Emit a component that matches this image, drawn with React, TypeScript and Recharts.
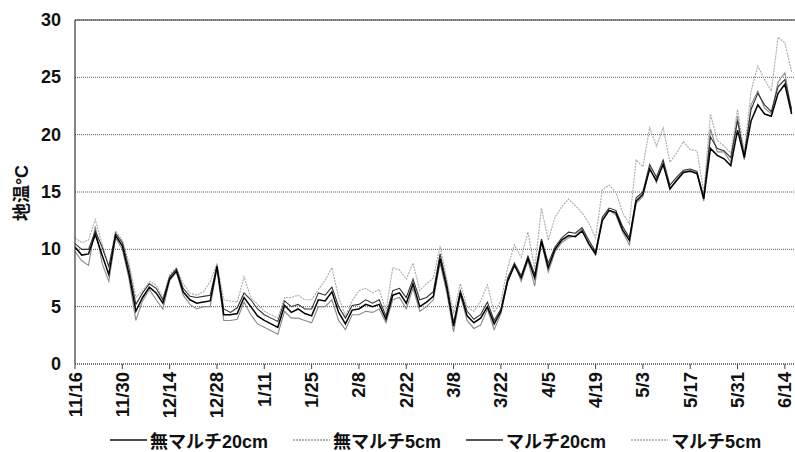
import React from 'react';
import { LineChart, Line, XAxis, YAxis, CartesianGrid, ReferenceLine, Legend } from 'recharts';

// x categories: days since 11/16, one reading every 2 days
const dayStep = 2;
const tickDays = [0, 14, 28, 42, 56, 70, 84, 98, 112, 126, 140, 154, 168, 182, 196, 210];
const tickLabels = ['11/16', '11/30', '12/14', '12/28', '1/11', '1/25', '2/8', '2/22', '3/8', '3/22', '4/5', '4/19', '5/3', '5/17', '5/31', '6/14'];
const yTicks = [0, 5, 10, 15, 20, 25, 30];

const seriesNames = ['無マルチ20cm', '無マルチ5cm', 'マルチ20cm', 'マルチ5cm'];

const noMulch20 = [
  10.2, 9.5, 9.6, 11.3, 9.5, 7.8, 11.2, 10.3, 7.8, 4.6,
  5.8, 6.7, 6.2, 5.3, 7.4, 8.1, 6.3, 5.6, 5.3, 5.4,
  5.5, 8.5, 4.3, 4.3, 4.4, 5.8, 5.0, 4.2, 3.8, 3.5,
  3.2, 5.1, 4.5, 4.8, 4.4, 4.2, 5.6, 5.5, 6.3, 4.5,
  3.5, 4.7, 4.8, 5.2, 5.0, 5.2, 3.9, 6.0, 6.2, 5.3,
  7.0, 5.0, 5.4, 5.9, 9.2, 6.6, 3.3, 6.2, 4.2, 3.6,
  4.0, 5.0, 3.5, 4.6, 7.2, 8.6, 7.5, 9.2, 7.5, 10.7,
  8.4, 10.0, 10.8, 11.2, 11.1, 11.6, 10.5, 9.6, 12.5, 13.4,
  13.2, 11.7, 10.8, 14.2, 14.8, 17.0, 16.0, 17.4, 15.3, 16.0,
  16.7, 16.8, 16.6, 14.4, 18.8, 18.2, 17.9, 17.3, 20.4, 18.0,
  21.2, 22.6, 21.8, 21.6, 23.6, 24.4, 21.8,
];
const noMulch5 = [
  9.8, 9.0, 8.6, 12.0, 8.8, 7.2, 11.0, 10.0, 7.4, 3.8,
  5.5, 6.5, 5.6, 4.8, 7.3, 8.0, 6.0, 5.2, 4.8, 5.0,
  5.0, 8.3, 3.8, 3.8, 3.9, 5.4, 4.3, 3.5, 3.2, 2.9,
  2.6, 4.6, 4.0, 4.0, 3.8, 3.6, 5.0, 5.0, 5.6, 3.8,
  3.0, 4.3, 4.3, 4.6, 4.5, 4.8, 3.6, 5.6, 5.8, 4.8,
  6.6, 4.6, 5.0, 5.6, 8.8, 6.2, 2.8, 6.0, 3.8, 3.1,
  3.4, 4.8, 3.0, 4.4, 7.3, 8.7, 7.2, 9.0, 6.8, 10.6,
  8.0, 9.8, 10.6, 11.0, 11.2, 11.8, 10.4, 9.5, 12.6, 13.4,
  13.0, 11.5, 10.4, 14.0, 14.6, 17.2, 15.8, 17.6, 15.2, 16.1,
  16.8, 16.9, 16.7, 14.2, 20.5, 18.5, 18.5, 17.6, 21.6, 17.8,
  22.6, 23.8, 22.3, 21.8, 24.6, 25.4, 22.0,
];
const mulch20 = [
  10.5, 10.0, 10.0, 11.6, 10.2, 8.5, 11.4, 10.6, 8.3, 5.2,
  6.2, 7.0, 6.6, 5.6, 7.6, 8.3, 6.6, 5.9, 5.8, 5.9,
  6.0, 8.6, 4.8, 4.5, 4.9, 6.2, 5.6, 4.8, 4.3, 4.0,
  3.7, 5.5, 5.0, 5.2, 4.8, 4.8, 6.2, 6.0, 6.7, 5.0,
  4.0, 5.1, 5.2, 5.6, 5.3, 5.6, 4.2, 6.4, 6.6, 5.8,
  7.4, 5.6, 5.8, 6.3, 9.6, 7.0, 3.6, 6.4, 4.6, 3.9,
  4.3, 5.4, 3.8, 4.8, 7.5, 8.8, 7.7, 9.4, 7.8, 10.9,
  8.8, 10.2, 11.0, 11.5, 11.4, 11.9, 10.8, 9.8, 12.8, 13.6,
  13.4, 12.0, 11.0, 14.5, 15.0, 17.4, 16.3, 17.8, 15.6, 16.3,
  16.9, 17.0, 16.8, 14.6, 19.8, 18.8, 18.6, 18.0, 21.2, 18.2,
  22.2, 23.6, 22.6, 22.0, 24.2, 24.8, 22.2,
];
const mulch5 = [
  11.0, 10.6, 10.8, 12.6, 10.5, 8.5, 11.6, 10.8, 8.8, 5.8,
  6.4, 7.2, 6.9, 5.8, 7.8, 8.4, 7.0, 6.2, 6.0, 6.3,
  7.2, 8.8, 5.6, 5.5, 5.4, 7.6, 5.8, 5.2, 4.6, 4.3,
  4.0, 5.8, 5.8, 6.0, 5.6, 5.6, 6.5, 7.3, 8.4, 5.8,
  4.2, 5.5, 6.4, 6.6, 6.2, 6.5, 4.6, 8.4, 8.2, 7.4,
  8.8, 6.4, 7.0, 7.5, 10.3, 7.4, 4.4, 7.0, 5.0, 4.6,
  5.5, 6.9, 4.5, 5.5, 8.4, 10.4, 9.3, 11.5, 8.3, 13.6,
  10.8, 12.8, 13.7, 14.4, 13.8, 13.2, 12.3, 11.0, 15.2, 15.6,
  15.0, 13.2, 12.2, 17.8, 17.2, 20.6, 19.0, 20.6, 17.6, 18.4,
  19.4, 18.7, 18.6, 15.0, 21.8, 19.5, 19.0, 18.4, 22.2, 18.5,
  23.8, 26.0, 24.8, 23.8, 28.5, 28.0, 25.5,
];

const data = noMulch20.map((v, i) => ({
  day: i * dayStep,
  a: v,
  b: noMulch5[i],
  c: mulch20[i],
  d: mulch5[i],
}));

const FONT = '"Liberation Sans", "Noto Sans CJK JP", Arial, sans-serif';

const XTick = (props: any) => {
  const { x, y, payload } = props;
  const idx = tickDays.indexOf(payload.value);
  const label = idx >= 0 ? tickLabels[idx] : '';
  const ty = y + 1;
  return (
    <text
      x={x}
      y={ty}
      transform={`rotate(-90 ${x} ${ty})`}
      textAnchor="end"
      dominantBaseline="central"
      fontFamily={FONT}
      fontWeight="bold"
      fontSize={18.5}
      fill="#111"
    >
      {label}
    </text>
  );
};

const YTick = (props: any) => {
  const { y, payload } = props;
  return (
    <text
      x={61}
      y={y}
      textAnchor="end"
      dominantBaseline="central"
      fontFamily={FONT}
      fontWeight="bold"
      fontSize={18}
      fill="#111"
    >
      {payload.value}
    </text>
  );
};

const legendStyles = [
  { color: '#111', dash: undefined as string | undefined, width: 1.6 },
  { color: '#999', dash: '2 1', width: 1.4 },
  { color: '#222', dash: undefined as string | undefined, width: 1.4 },
  { color: '#aaa', dash: '2 1', width: 1.4 },
];

const renderLegend = () => (
  <div
    style={{
      display: 'flex',
      alignItems: 'center',
      paddingLeft: 110,
      fontFamily: FONT,
      fontWeight: 'bold',
      fontSize: 18,
      color: '#111',
      whiteSpace: 'nowrap',
    }}
  >
    {seriesNames.map((name, i) => (
      <div key={name} style={{ display: 'flex', alignItems: 'center', marginRight: 25 }}>
        <svg width={37} height={10} style={{ marginRight: 3 }}>
          <line
            x1={0}
            y1={5}
            x2={37}
            y2={5}
            stroke={legendStyles[i].color}
            strokeWidth={legendStyles[i].width}
            strokeDasharray={legendStyles[i].dash}
          />
        </svg>
        <span>{name}</span>
      </div>
    ))}
  </div>
);

export default function App() {
  return (
    <div style={{ position: 'absolute', left: 0, top: 0, width: 795, height: 452, background: '#fff' }}>
      <LineChart width={795} height={452} data={data} margin={{ top: 20, right: 0, bottom: 30, left: 0 }}>
        <CartesianGrid vertical={false} stroke="#555" strokeDasharray="1 1" />
        <XAxis
          type="number"
          dataKey="day"
          domain={[0, 213]}
          ticks={tickDays}
          interval={0}
          height={58}
          tick={<XTick />}
          tickSize={5}
          tickLine={{ stroke: '#444' }}
          axisLine={{ stroke: '#444', strokeDasharray: '1 1' }}
          allowDataOverflow
        />
        <YAxis
          type="number"
          domain={[0, 30]}
          ticks={yTicks}
          interval={0}
          width={75}
          tick={<YTick />}
          tickLine={false}
          axisLine={{ stroke: '#333', strokeWidth: 1.2 }}
        />
        <ReferenceLine y={30} stroke="#333" strokeWidth={1.2} />
        <Line type="linear" dataKey="d" name={seriesNames[3]} stroke="#aaa" strokeWidth={1.1} strokeDasharray="2 1" dot={false} isAnimationActive={false} />
        <Line type="linear" dataKey="b" name={seriesNames[1]} stroke="#8a8a8a" strokeWidth={1.1} dot={false} isAnimationActive={false} />
        <Line type="linear" dataKey="c" name={seriesNames[2]} stroke="#333" strokeWidth={1.1} dot={false} isAnimationActive={false} />
        <Line type="linear" dataKey="a" name={seriesNames[0]} stroke="#000" strokeWidth={1.5} dot={false} isAnimationActive={false} />
        <Legend
          layout="horizontal"
          verticalAlign="middle"
          align="center"
          content={renderLegend}
          wrapperStyle={{ top: 427, left: 0, width: 795, height: 22 }}
        />
      </LineChart>
      <div
        style={{
          position: 'absolute',
          left: 20,
          top: 193,
          transform: 'translate(-50%, -50%) rotate(-90deg)',
          fontFamily: FONT,
          fontWeight: 'bold',
          fontSize: 18,
          color: '#111',
          whiteSpace: 'nowrap',
        }}
      >
        地温°C
      </div>
    </div>
  );
}
